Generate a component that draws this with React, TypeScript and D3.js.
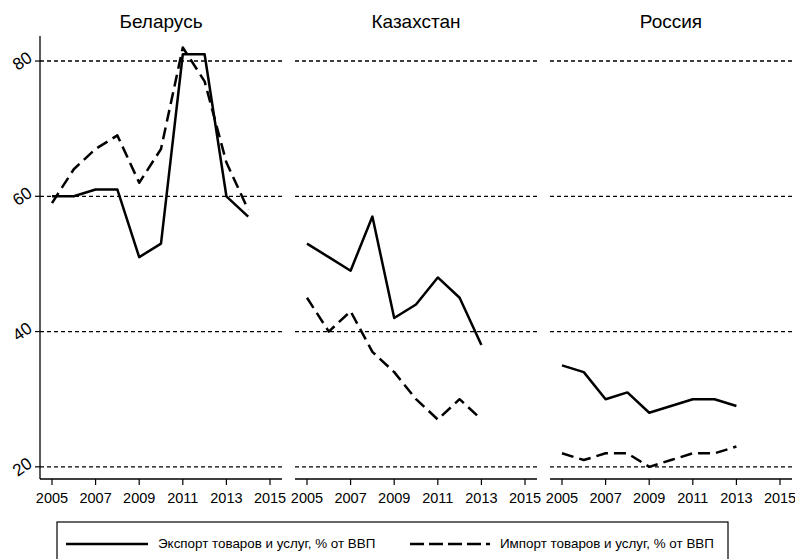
import React from 'react';
import * as d3 from 'd3';

const countries = ['Беларусь', 'Казахстан', 'Россия'];

const belYears = [2005, 2006, 2007, 2008, 2009, 2010, 2011, 2012, 2013, 2014];
const belExport = [60, 60, 61, 61, 51, 53, 81, 81, 60, 57];
const belImport = [59, 64, 67, 69, 62, 67, 82, 77, 65, 58];

const kazYears = [2005, 2006, 2007, 2008, 2009, 2010, 2011, 2012, 2013];
const kazExport = [53, 51, 49, 57, 42, 44, 48, 45, 38];
const kazImport = [45, 40, 43, 37, 34, 30, 27, 30, 27];

const rusYears = [2005, 2006, 2007, 2008, 2009, 2010, 2011, 2012, 2013];
const rusExport = [35, 34, 30, 31, 28, 29, 30, 30, 29];
const rusImport = [22, 21, 22, 22, 20, 21, 22, 22, 23];

const xTicks = [2005, 2007, 2009, 2011, 2013, 2015];
const yTicks = [20, 40, 60, 80];

const exportLabel = 'Экспорт товаров и услуг, % от ВВП';
const importLabel = 'Импорт товаров и услуг, % от ВВП';

const panels = [
  { name: countries[0], years: belYears, exp: belExport, imp: belImport },
  { name: countries[1], years: kazYears, exp: kazExport, imp: kazImport },
  { name: countries[2], years: rusYears, exp: rusExport, imp: rusImport },
];

const font = 'Liberation Sans, Arial, sans-serif';

export default function App() {
  const top = 36;
  const bottom = 479;
  const panelW = 242;
  const panelX = [40, 295, 550];

  const y = d3.scaleLinear().domain([18.2, 83.7]).range([bottom, top]);

  return (
    <svg width={795} height={559} style={{ position: 'absolute', left: 0, top: 0, background: '#fff' }}>
      <rect width={795} height={559} fill="#fff" />
      {panels.map((p, i) => {
        const x0 = panelX[i];
        const x = d3.scaleLinear().domain([2004.45, 2015.55]).range([x0, x0 + panelW]);
        const line = d3
          .line<number>()
          .x((_, j) => x(p.years[j]))
          .y((d) => y(d));
        return (
          <g key={p.name}>
            <text x={x0 + panelW / 2} y={28} textAnchor="middle" fontFamily={font} fontSize={19}>
              {p.name}
            </text>
            {yTicks.map((t) => (
              <line
                key={t}
                x1={x0}
                x2={x0 + panelW}
                y1={y(t)}
                y2={y(t)}
                stroke="#000"
                strokeWidth={1.3}
                strokeDasharray="4,3"
              />
            ))}
            <line x1={x0} x2={x0 + panelW} y1={bottom} y2={bottom} stroke="#000" strokeWidth={1.3} />
            {xTicks.map((t) => (
              <g key={t}>
                <line x1={x(t)} x2={x(t)} y1={bottom} y2={bottom + 6} stroke="#000" strokeWidth={1.2} />
                <text x={x(t)} y={503} textAnchor="middle" fontFamily={font} fontSize={14.5}>
                  {t}
                </text>
              </g>
            ))}
            <path d={line(p.exp) || ''} fill="none" stroke="#000" strokeWidth={2.5} strokeLinejoin="round" />
            <path
              d={line(p.imp) || ''}
              fill="none"
              stroke="#000"
              strokeWidth={2.5}
              strokeDasharray="12,6"
              strokeLinejoin="round"
            />
          </g>
        );
      })}
      <line x1={40} x2={40} y1={top} y2={bottom} stroke="#000" strokeWidth={1.3} />
      {yTicks.map((t) => (
        <g key={t}>
          <line x1={35} x2={40} y1={y(t)} y2={y(t)} stroke="#000" strokeWidth={1.2} />
          <text
            transform={`translate(23,${y(t) + 1}) rotate(-35)`}
            textAnchor="middle"
            dominantBaseline="middle"
            fontFamily={font}
            fontSize={17}
          >
            {t}
          </text>
        </g>
      ))}
      <rect x={57} y={522} width={671} height={60} fill="none" stroke="#000" strokeWidth={1.2} />
      <line x1={66} x2={148} y1={544} y2={544} stroke="#000" strokeWidth={2.5} />
      <text x={158} y={548} fontFamily={font} fontSize={13.4}>
        {exportLabel}
      </text>
      <line x1={410} x2={490} y1={544} y2={544} stroke="#000" strokeWidth={2.5} strokeDasharray="14,5" />
      <text x={500} y={548} fontFamily={font} fontSize={13.4}>
        {importLabel}
      </text>
    </svg>
  );
}
